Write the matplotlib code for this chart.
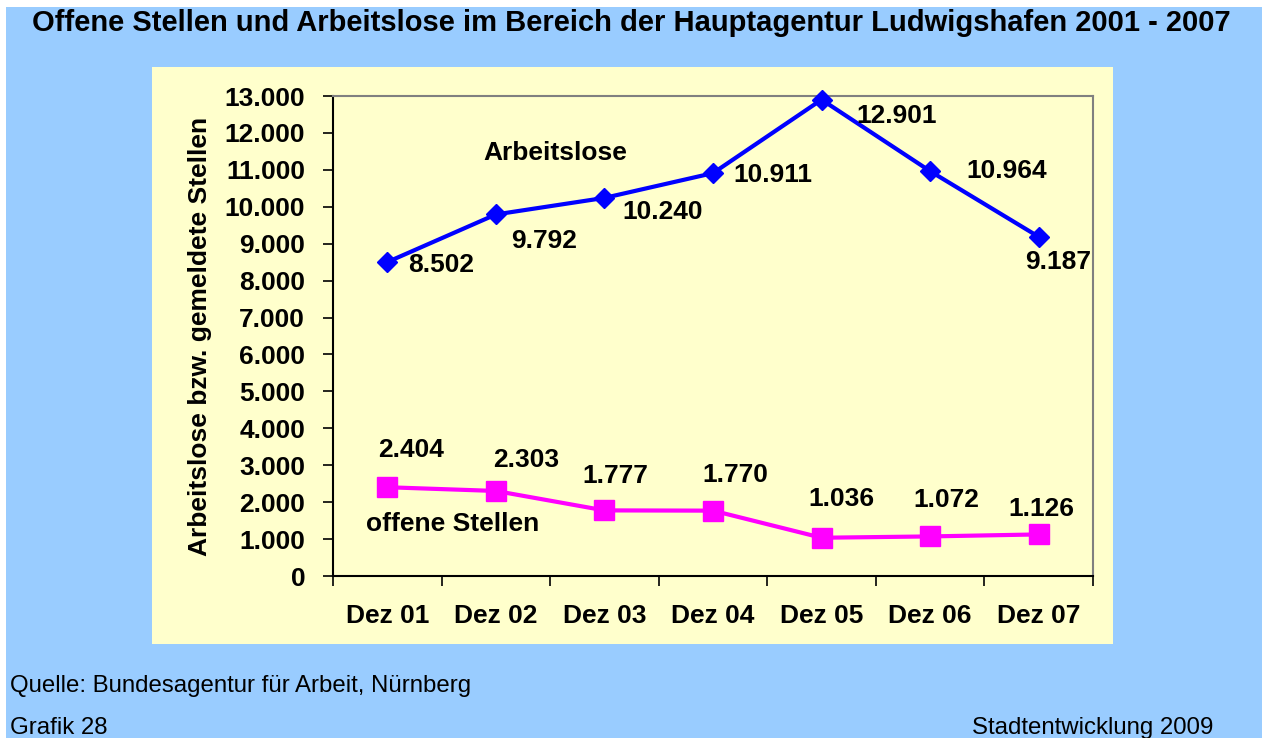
import matplotlib
matplotlib.use("Agg")
import matplotlib.pyplot as plt
from matplotlib.patches import Rectangle

plt.rcParams["font.family"] = ["Liberation Sans", "DejaVu Sans"]

months = ["Dez 01", "Dez 02", "Dez 03", "Dez 04", "Dez 05", "Dez 06", "Dez 07"]
arbeitslose = [8502, 9792, 10240, 10911, 12901, 10964, 9187]
offene_stellen = [2404, 2303, 1777, 1770, 1036, 1072, 1126]
yticks = list(range(0, 14000, 1000))


def de_fmt(v):
    return f"{v:,}".replace(",", ".")


W, H = 1262, 738
FS = 19
fig = plt.figure(figsize=(W / 100, H / 100), dpi=100, facecolor="white")

# blue page background (thin white margin at top/left) and the yellow chart panel
bg = fig.add_axes([0, 0, 1, 1], zorder=-2)
bg.axis("off")
bg.set_xlim(0, W)
bg.set_ylim(H, 0)
bg.add_patch(Rectangle((6, 7), W - 6, H - 7, facecolor="#99CCFF", edgecolor="none"))
bg.add_patch(Rectangle((152, 67), 961, 577, facecolor="#FFFFCC", edgecolor="none"))

ax = fig.add_axes([333 / W, 1 - 576 / H, (1093 - 333) / W, (576 - 96) / H])
ax.set_facecolor("#FFFFCC")
x = list(range(len(months)))

ax.plot(x, arbeitslose, "-", color="#0000FF", lw=3, marker="D", ms=10.5,
        mfc="#0000FF", mec="#0000FF", zorder=3, clip_on=False)
ax.plot(x, offene_stellen, "-", color="#FF00FF", lw=3, marker="s", ms=14,
        mfc="#FF00FF", mec="#FF00FF", zorder=3)

# value labels (offsets in points)
off_a = [(39, -2), (35, -19), (42, -10), (43, -1), (54, -12), (55, 0), (14, -18)]
for xi, v, (dx, dy) in zip(x, arbeitslose, off_a):
    ax.annotate(de_fmt(v), (xi, v), xytext=(dx, dy), textcoords="offset points",
                ha="center", va="center", fontsize=FS, fontweight="bold")
off_o = [(17, 27), (22, 22), (8, 25), (16, 26), (14, 28), (12, 26), (2, 18)]
for xi, v, (dx, dy) in zip(x, offene_stellen, off_o):
    ax.annotate(de_fmt(v), (xi, v), xytext=(dx, dy), textcoords="offset points",
                ha="center", va="center", fontsize=FS, fontweight="bold")

ax.text(1.55, 11450, "Arbeitslose", ha="center", va="center", fontsize=FS, fontweight="bold")
ax.text(0.6, 1400, "offene Stellen", ha="center", va="center", fontsize=FS, fontweight="bold")

ax.set_xlim(-0.5, len(months) - 0.5)
ax.set_ylim(0, 13000)
ax.set_xticks(x)
ax.set_xticklabels(months, fontsize=FS, fontweight="bold")
ax.set_xticks([i - 0.5 for i in range(len(months) + 1)], minor=True)
ax.tick_params(axis="x", which="major", length=0, pad=20)
ax.tick_params(axis="x", which="minor", length=7, width=1.2, direction="out")
ax.set_yticks(yticks)
ax.set_yticklabels([de_fmt(v) for v in yticks], fontsize=FS, fontweight="bold")
ax.tick_params(axis="y", length=7, width=1.2, direction="out", pad=13)

for s in ("left", "bottom"):
    ax.spines[s].set_color("black")
    ax.spines[s].set_linewidth(1.5)
for s in ("top", "right"):
    ax.spines[s].set_color("#808080")
    ax.spines[s].set_linewidth(1.5)

ax.set_ylabel("Arbeitslose bzw. gemeldete Stellen", fontsize=FS, fontweight="bold", labelpad=9)

fig.text(631 / W, 1 - 23 / H,
         "Offene Stellen und Arbeitslose im Bereich der Hauptagentur Ludwigshafen 2001 - 2007",
         ha="center", va="center", fontsize=21, fontweight="bold")
fig.text(10 / W, 1 - 686 / H, "Quelle: Bundesagentur für Arbeit, Nürnberg",
         ha="left", va="center", fontsize=17.3)
fig.text(10 / W, 1 - 728 / H, "Grafik 28", ha="left", va="center", fontsize=17.3)
fig.text(1213 / W, 1 - 728 / H, "Stadtentwicklung 2009", ha="right", va="center", fontsize=17.3)

fig.savefig("out.png", dpi=100, facecolor=fig.get_facecolor())
